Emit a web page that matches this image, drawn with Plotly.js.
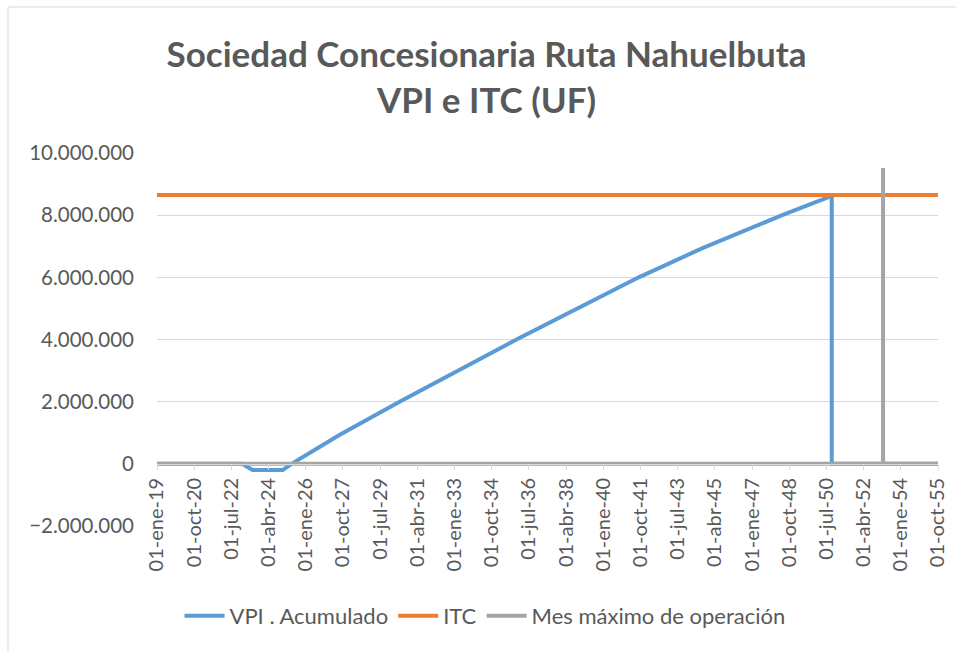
<!DOCTYPE html>
<html>
<head>
<meta charset="utf-8">
<script src="https://cdn.plot.ly/plotly-3.0.1.min.js"></script>
<style>
html,body{margin:0;padding:0;background:#fff;}
#chart{width:956px;height:651px;}
</style>
</head>
<body>
<div id="chart"></div>
<script>
// Tick positions and labels
const tickDates = ["2019-01-01","2020-10-01","2022-07-01","2024-04-01","2026-01-01","2027-10-01","2029-07-01","2031-04-01","2033-01-01","2034-10-01","2036-07-01","2038-04-01","2040-01-01","2041-10-01","2043-07-01","2045-04-01","2047-01-01","2048-10-01","2050-07-01","2052-04-01","2054-01-01","2055-10-01"];
const tickLabels = ["01-ene-19","01-oct-20","01-jul-22","01-abr-24","01-ene-26","01-oct-27","01-jul-29","01-abr-31","01-ene-33","01-oct-34","01-jul-36","01-abr-38","01-ene-40","01-oct-41","01-jul-43","01-abr-45","01-ene-47","01-oct-48","01-jul-50","01-abr-52","01-ene-54","01-oct-55"];

// VPI . Acumulado (UF)
const vpiDates = ["2019-01-01","2023-01-01","2023-07-01","2024-12-01","2025-05-01","2027-08-01","2030-06-01","2034-04-01","2035-12-01","2041-09-01","2043-09-01","2044-09-01","2048-06-01","2050-10-01","2050-10-01","2055-10-01"];
const vpiValues = [0,0,-200000,-200000,0,930000,2000000,3400000,4000000,6000000,6610000,6940000,8000000,8620000,0,0];

// ITC (UF)
const itcDates = ["2019-01-01","2055-10-01"];
const itcValues = [8650000,8650000];

// Mes máximo de operación
const mesDates = ["2019-01-01","2053-03-01","2053-03-01","2053-03-01","2055-10-01"];
const mesValues = [0,0,9520000,0,0];

const txt = "#595959";
const fontFam = "Lato, 'Open Sans', sans-serif";

const traces = [
  {x: vpiDates, y: vpiValues, name: "VPI . Acumulado", type: "scatter", mode: "lines",
   line: {color: "#5B9BD5", width: 4, shape: "linear"}},
  {x: itcDates, y: itcValues, name: "ITC", type: "scatter", mode: "lines",
   line: {color: "#ED7D31", width: 4}},
  {x: mesDates, y: mesValues, name: "Mes máximo de operación", type: "scatter", mode: "lines",
   line: {color: "#A5A5A5", width: 4}}
];

const L = 157, T = 153, PW = 781, PH = 373;
function px(x){ return (x - L) / PW; }
function py(y){ return (T + PH - y) / PH; }

const layout = {
  width: 956, height: 651,
  margin: {l: L, r: 956 - L - PW, t: T, b: 651 - T - PH},
  paper_bgcolor: "#fff", plot_bgcolor: "#fff",
  separators: ",.",
  font: {family: fontFam, color: txt, size: 20},
  title: {text: "<b>Sociedad Concesionaria Ruta Nahuelbuta<br>VPI e ITC (UF)</b>",
          font: {family: fontFam, size: 35, color: txt}, x: 0.509, xanchor: "center", y: 0.897, yanchor: "top"},
  xaxis: {type: "date", range: ["2019-01-01","2055-10-01"], tickmode: "array",
          tickvals: tickDates, ticktext: tickLabels, tickangle: -90,
          anchor: "free", position: 2/12, showgrid: false,
          showline: true, linecolor: "#d9d9d9", linewidth: 1,
          ticks: "outside", ticklen: 5, tickcolor: "#d9d9d9",
          tickfont: {family: fontFam, size: 20, color: txt}, zeroline: false},
  yaxis: {range: [-2000000, 10000000], dtick: 2000000, tick0: 0, tickformat: ",d",
          showgrid: true, gridcolor: "#d9d9d9", gridwidth: 1, zeroline: false,
          showline: false, ticks: "", ticklabelstandoff: 22,
          tickfont: {family: fontFam, size: 20.5, color: txt}},
  legend: {orientation: "h", x: 0.42, xanchor: "center", y: py(616), yanchor: "middle",
           font: {family: fontFam, size: 22, color: txt}, itemwidth: 40, tracegroupgap: 0},
  shapes: [
    {type: "line", xref: "paper", yref: "paper", x0: px(8), x1: px(8), y0: py(7), y1: py(660),
     line: {color: "#d9d9d9", width: 1}},
    {type: "line", xref: "paper", yref: "paper", x0: px(8), x1: px(970), y0: py(7), y1: py(7),
     line: {color: "#d9d9d9", width: 1}}
  ],
  showlegend: true
};

Plotly.newPlot("chart", traces, layout, {staticPlot: true, displayModeBar: false});
</script>
</body>
</html>
